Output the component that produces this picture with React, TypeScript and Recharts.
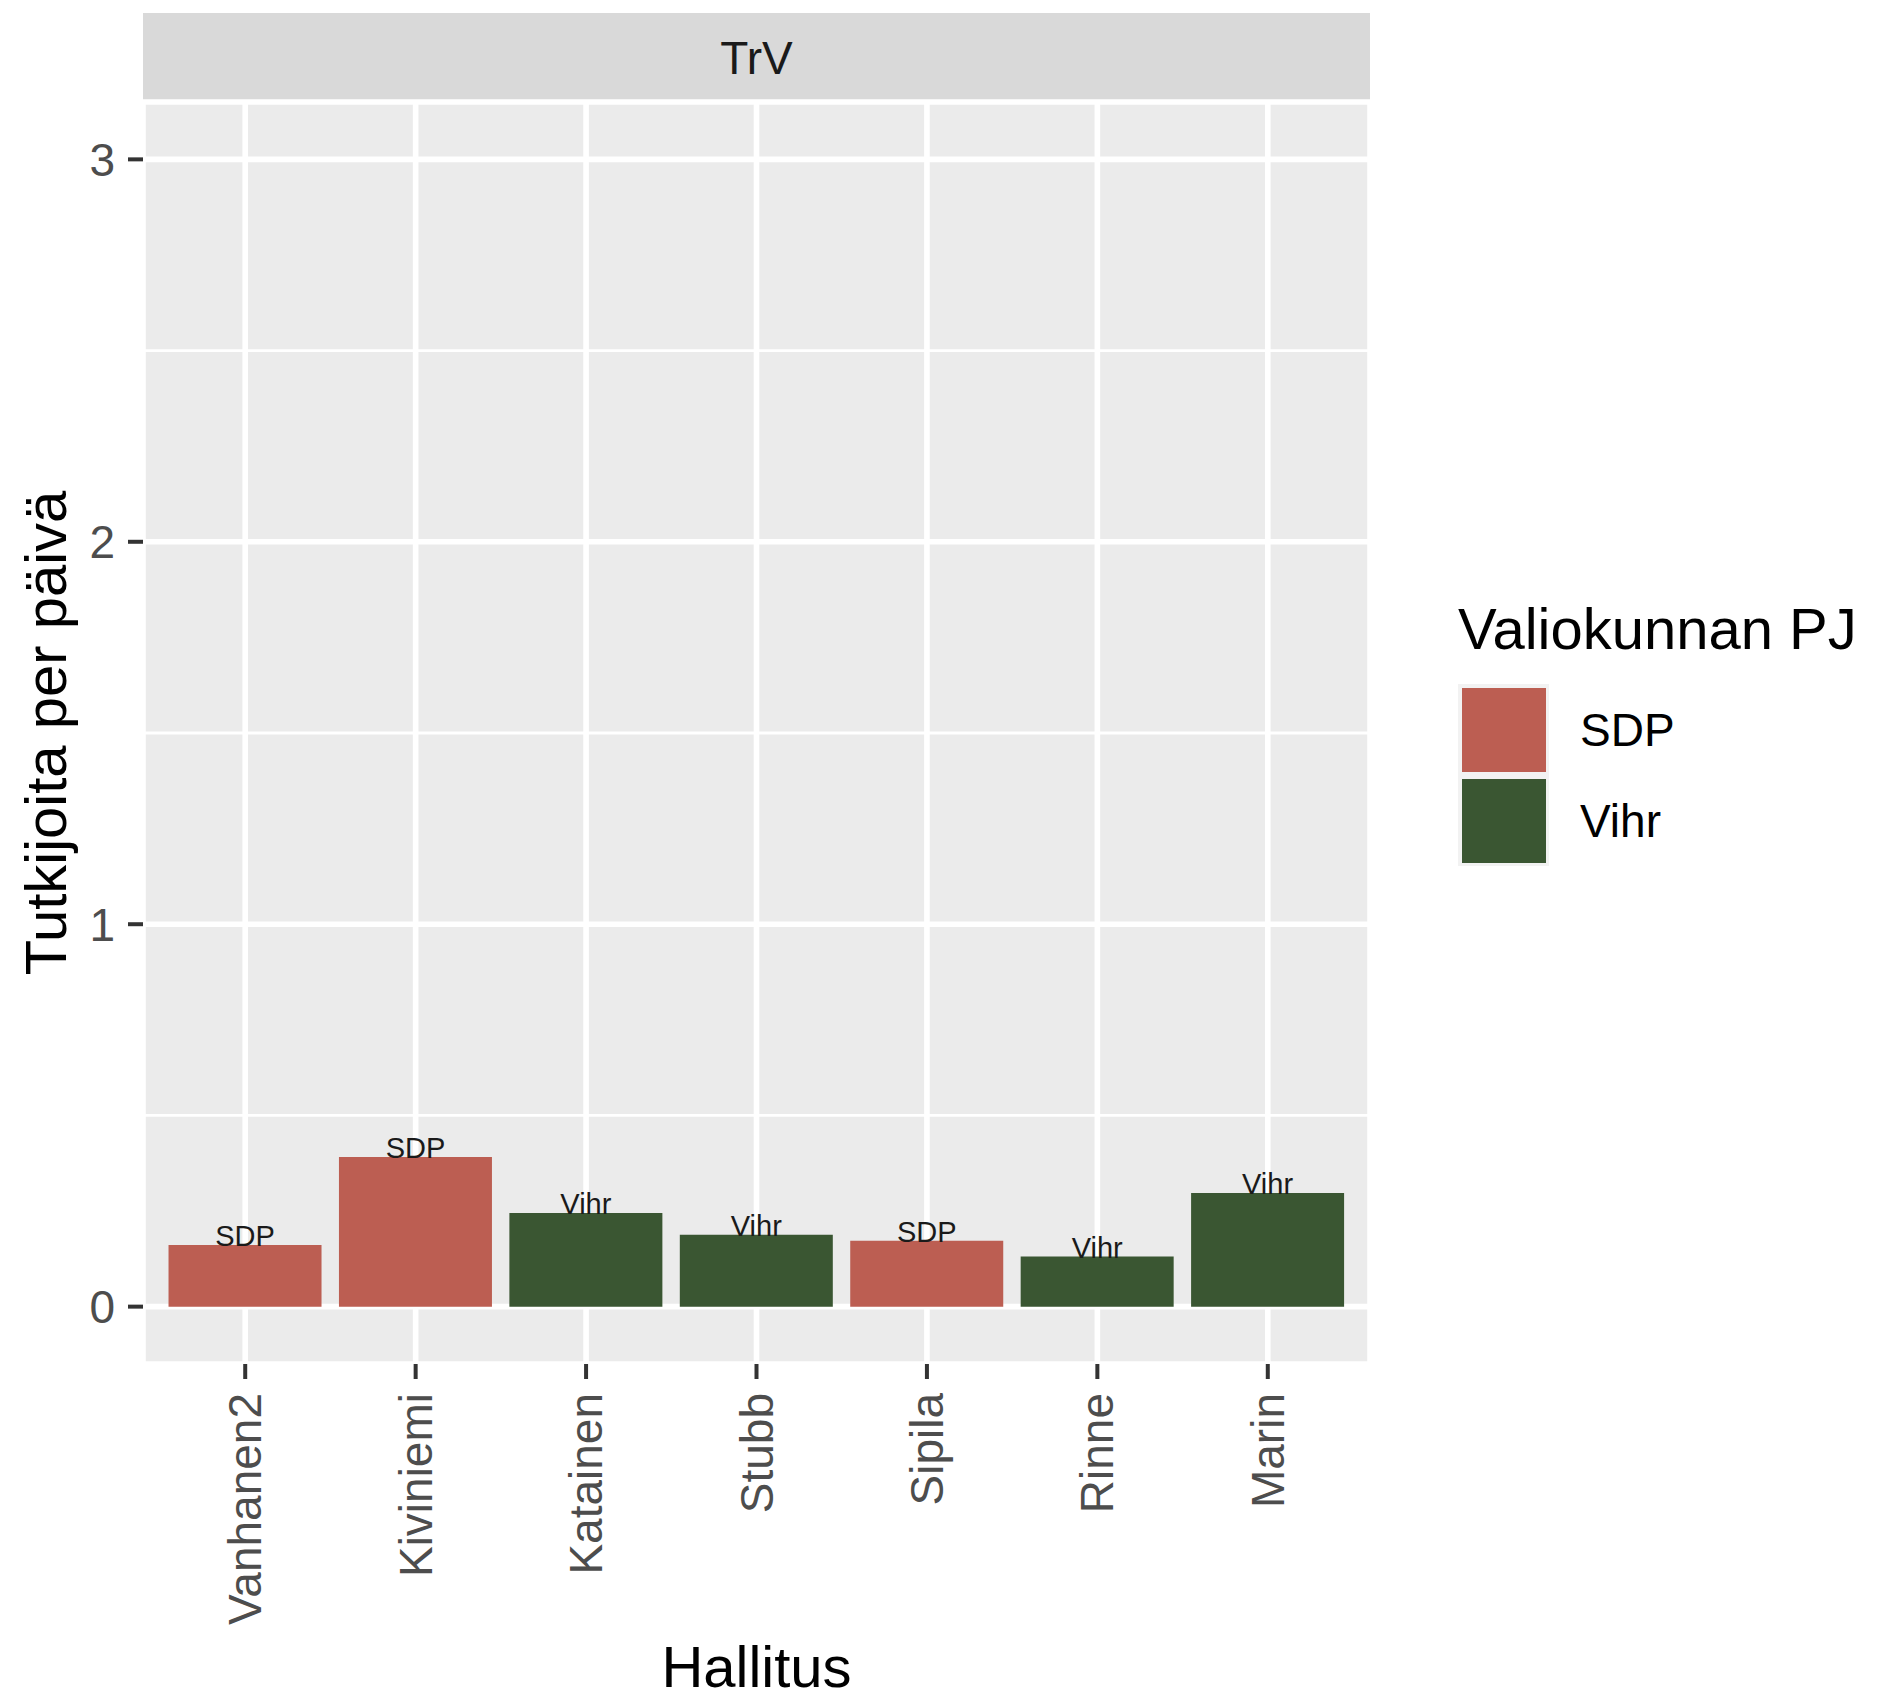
import React from 'react'
import {
  BarChart,
  Bar,
  XAxis,
  YAxis,
  CartesianGrid,
  Cell,
  LabelList,
  ReferenceLine,
  Label,
} from 'recharts'

const hallitukset = ['Vanhanen2', 'Kiviniemi', 'Katainen', 'Stubb', 'Sipila', 'Rinne', 'Marin']
const tutkijoitaPerPaiva = [0.161, 0.391, 0.245, 0.188, 0.172, 0.131, 0.297]
const puolue = ['SDP', 'SDP', 'Vihr', 'Vihr', 'SDP', 'Vihr', 'Vihr']
const yTicks = [0, 1, 2, 3]
const yMinor = [0.5, 1.5, 2.5]
const legendItems = ['SDP', 'Vihr']

const PARTY_COLORS: Record<string, string> = {
  SDP: '#bc5e52',
  Vihr: '#3a5632',
}

const FONT = '"Liberation Sans", Arial, Helvetica, sans-serif'
const W = 1885
const H = 1699
const PLOT_LEFT = 143
const PLOT_RIGHT = 1370
const PLOT_TOP = 102
const PLOT_BOTTOM = 1364

const chartData = hallitukset.map((name, i) => ({
  name,
  value: tutkijoitaPerPaiva[i],
  party: puolue[i],
}))

const XTick = (props: any) => {
  const { x, y, payload } = props
  return (
    <text
      x={x}
      y={y}
      transform={`rotate(-90, ${x}, ${y})`}
      textAnchor="end"
      dominantBaseline="central"
      fill="#4d4d4d"
      fontSize={46}
      fontFamily={FONT}
    >
      {payload.value}
    </text>
  )
}

const BarText = (props: any) => {
  const { x, y, width, value } = props
  return (
    <text
      x={x + width / 2}
      y={y + 1}
      textAnchor="middle"
      fill="#1a1a1a"
      fontSize={29}
      fontFamily={FONT}
    >
      {value}
    </text>
  )
}

// legend drawn as plain html so recharts doesn't reserve space for it
const LegendBox = () => (
  <div style={{ position: 'absolute', left: 1458, top: 596, fontFamily: FONT, color: '#000' }}>
    <div style={{ fontSize: 58, lineHeight: '66px', marginBottom: 22, whiteSpace: 'nowrap' }}>
      Valiokunnan PJ
    </div>
    {legendItems.map(p => (
      <div key={p} style={{ display: 'flex', alignItems: 'center', height: 91 }}>
        <div
          style={{
            width: 91,
            height: 91,
            background: '#f2f2f2',
            display: 'flex',
            alignItems: 'center',
            justifyContent: 'center',
          }}
        >
          <div style={{ width: 84, height: 84, background: PARTY_COLORS[p] }} />
        </div>
        <span style={{ fontSize: 46, marginLeft: 31 }}>{p}</span>
      </div>
    ))}
  </div>
)

export default function App() {
  return (
    <div style={{ position: 'relative', width: W, height: H, background: '#fff' }}>
      <style>{`body{margin:0}`}</style>
      <div
        style={{
          position: 'absolute',
          left: PLOT_LEFT,
          top: 13,
          width: PLOT_RIGHT - PLOT_LEFT,
          height: PLOT_TOP - 13,
          background: '#d9d9d9',
          display: 'flex',
          alignItems: 'center',
          justifyContent: 'center',
          fontFamily: FONT,
          fontSize: 46,
          color: '#1a1a1a',
        }}
      >
        TrV
      </div>
      <BarChart
        width={W}
        height={H}
        data={chartData}
        margin={{ top: PLOT_TOP, right: W - PLOT_RIGHT, bottom: 0, left: 0 }}
        barCategoryGap="5%"
      >
        <CartesianGrid fill="#ebebeb" stroke="#ffffff" strokeWidth={5.6} />
        {yMinor.map(v => (
          <ReferenceLine key={v} y={v} stroke="#ffffff" strokeWidth={2.8} />
        ))}
        <XAxis
          dataKey="name"
          type="category"
          height={H - PLOT_BOTTOM}
          padding={{ left: 17, right: 17 }}
          axisLine={false}
          tickLine={{ stroke: '#333333', strokeWidth: 4 }}
          tickSize={15}
          tickMargin={14}
          tick={<XTick />}
          interval={0}
        >
          <Label
            content={() => (
              <text
                x={(PLOT_LEFT + PLOT_RIGHT) / 2}
                y={1687}
                textAnchor="middle"
                fontSize={58}
                fontFamily={FONT}
                fill="#000"
              >
                Hallitus
              </text>
            )}
          />
        </XAxis>
        <YAxis
          type="number"
          domain={[-0.15, 3.15]}
          ticks={yTicks}
          allowDataOverflow
          width={PLOT_LEFT}
          axisLine={false}
          tickLine={{ stroke: '#333333', strokeWidth: 4 }}
          tickSize={15}
          tickMargin={13}
          tick={{ fill: '#4d4d4d', fontSize: 46, fontFamily: FONT }}
        >
          <Label
            content={() => (
              <text
                x={45}
                y={(PLOT_TOP + PLOT_BOTTOM) / 2}
                transform={`rotate(-90, 45, ${(PLOT_TOP + PLOT_BOTTOM) / 2})`}
                textAnchor="middle"
                dominantBaseline="central"
                fontSize={58}
                fontFamily={FONT}
                fill="#000"
              >
                Tutkijoita per päivä
              </text>
            )}
          />
        </YAxis>
        <Bar dataKey="value" isAnimationActive={false}>
          {chartData.map(d => (
            <Cell key={d.name} fill={PARTY_COLORS[d.party]} />
          ))}
          <LabelList dataKey="party" content={<BarText />} />
        </Bar>
      </BarChart>
      <LegendBox />
    </div>
  )
}
